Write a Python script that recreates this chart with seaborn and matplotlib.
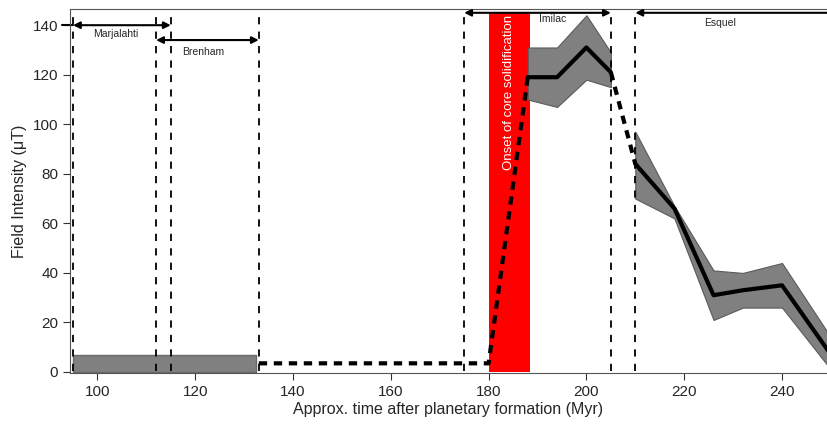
import matplotlib
matplotlib.use("Agg")
import matplotlib.pyplot as plt
import seaborn as sns
import pandas as pd

sns.set_style("ticks")
plt.rcParams['font.family'] = ['Liberation Sans', 'DejaVu Sans']

# Data
imilac_t = [188, 194, 200, 205]
imilac_mean = [119, 119, 131, 121]
imilac_lo = [110, 107, 118, 115]
imilac_hi = [131, 131, 144, 129]

esquel_t = [210, 218, 226, 232, 240, 250]
esquel_mean = [84, 66, 31, 33, 35, 7]
esquel_lo = [70, 62, 21, 26, 26, 1]
esquel_hi = [97, 67, 41, 40, 44, 14]

gap_t = [133, 180, 188]
gap_v = [3.5, 3.5, 119]
gap2_t = [205, 210]
gap2_v = [121, 84]

brenham_box = (95, 132.5, 0, 7)  # x0, x1, y0, y1
solid_span = (180, 188.5, 0, 145)

vlines = [95, 112, 115, 133, 175, 205, 210]
ranges = [("Marjalahti", 95, 115, 140, 103.7, 136.5),
          ("Brenham", 112, 133, 134, 121.6, 129),
          ("Imilac", 175, 205, 145, 193, 142.3),
          ("Esquel", 210, 252, 145, 227.4, 141)]

fig = plt.figure(figsize=(8.27, 4.33), dpi=100)
ax = fig.add_axes([0.0847, 0.1386, 0.9153, 0.8404])

# red band
ax.fill_between([solid_span[0], solid_span[1]], solid_span[2], solid_span[3],
                color="#ff0000", lw=0, zorder=1)
ax.text((solid_span[0] + solid_span[1]) / 2, 113, "Onset of core solidification",
        rotation=90, color="white", ha="center", va="center", fontsize=9.5, zorder=6)

# gray box
ax.fill_between([brenham_box[0], brenham_box[1]], brenham_box[2], brenham_box[3],
                facecolor="#808080", edgecolor="#6a6a6a", lw=1, zorder=2)

# bands
ax.fill_between(imilac_t, imilac_lo, imilac_hi, facecolor="#808080", edgecolor="#5a5a5a", lw=0.8, zorder=2)
ax.fill_between(esquel_t, esquel_lo, esquel_hi, facecolor="#808080", edgecolor="#5a5a5a", lw=0.8, zorder=2)

# lines
df_i = pd.DataFrame({"t": imilac_t, "v": imilac_mean})
df_e = pd.DataFrame({"t": esquel_t, "v": esquel_mean})
sns.lineplot(data=df_i, x="t", y="v", color="black", lw=3, ax=ax, zorder=4)
sns.lineplot(data=df_e, x="t", y="v", color="black", lw=3, ax=ax, zorder=4)
ax.plot(gap_t, gap_v, color="black", lw=3, ls=(0, (2, 1.6)), zorder=4)
ax.plot(gap2_t, gap2_v, color="black", lw=3, ls=(0, (2, 1.6)), zorder=4)

# vertical dashed lines
for v in vlines:
    ax.plot([v, v], [0.5, 145], color="black", lw=1.3, ls=(0, (4, 4)), zorder=3)

# range arrows
for name, a, b, y, tx, ty in ranges:
    ax.annotate("", xy=(a, y), xytext=(b, y),
                arrowprops=dict(arrowstyle="<|-|>", color="black", lw=1.5,
                                mutation_scale=10, shrinkA=0, shrinkB=0),
                annotation_clip=False, zorder=5)
    ax.text(tx, ty, name, fontsize=7.5, ha="center", va="center", zorder=5)
ax.plot([92.8, 95], [140, 140], color="black", lw=1.5, clip_on=False)

ax.set_xlim(94.4, 249.2)
ax.set_ylim(-0.4, 146.5)
ax.set_xticks(range(100, 241, 20))
ax.set_yticks(range(0, 141, 20))
ax.set_xlabel("Approx. time after planetary formation (Myr)", fontsize=11.5, labelpad=2)
ax.set_ylabel("Field Intensity (μT)", fontsize=11.5, labelpad=4)
ax.tick_params(labelsize=11, length=5, width=0.8, color="#333333")
for s in ["left", "bottom", "top"]:
    ax.spines[s].set_color("#555555")
    ax.spines[s].set_linewidth(0.8)
ax.spines["right"].set_visible(False)

fig.savefig("out.png", dpi=100)
